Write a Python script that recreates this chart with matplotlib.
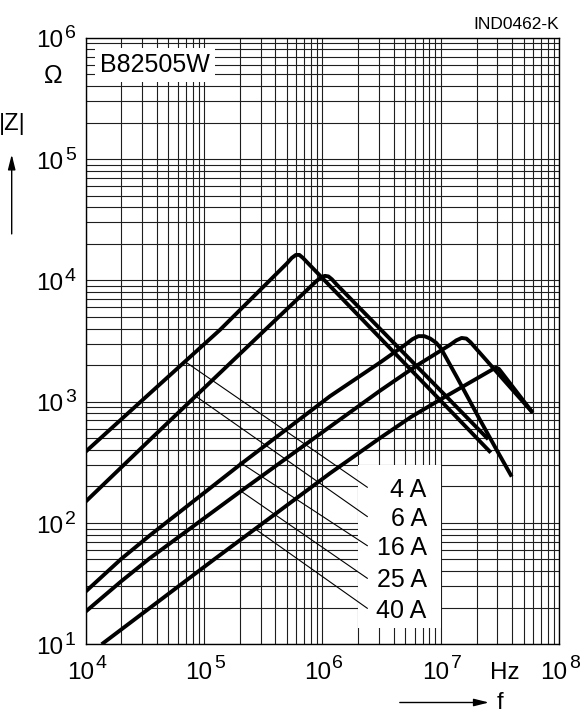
import numpy as np
import matplotlib
matplotlib.use('Agg')
import matplotlib.pyplot as plt
from matplotlib.ticker import LogLocator, NullFormatter
from matplotlib.patches import Rectangle, FancyArrowPatch

plt.rcParams['font.family'] = ['Liberation Sans', 'DejaVu Sans']

f_4A = [1.0e4, 3.49e4, 1.36e5, 5.01e5, 5.50e5, 5.96e5, 6.38e5, 6.84e5, 7.41e5, 2.64e7]
z_4A = [387, 1172, 3900, 13800, 15300, 16200, 16200, 15300, 14100, 380]

f_6A = [1.0e4, 3.49e4, 3.27e5, 8.91e5, 9.77e5, 1.047e6, 1.122e6, 1.202e6, 1.318e6, 2.51e7]
z_6A = [150, 485, 3900, 9890, 10590, 10890, 10770, 10190, 9230, 490]

f_16A = [1.0e4, 2.0e4, 3.49e4, 2.01e5, 1.159e6, 3.06e6, 5.01e6, 5.75e6, 6.46e6, 7.24e6,
         8.13e6, 9.12e6, 1.0e7, 1.358e7, 2.138e7, 2.958e7, 3.963e7]
z_16A = [27.2, 50.6, 79.1, 302, 1110, 2100, 2951, 3273, 3467, 3467,
         3311, 3055, 2754, 1607, 708, 400, 241]

f_25A = [1.0e4, 2.0e4, 3.49e4, 2.08e5, 1.159e6, 3.06e6, 6.31e6, 1.202e7, 1.349e7, 1.496e7,
         1.641e7, 1.778e7, 1.95e7, 5.96e7]
z_25A = [18.6, 33.1, 51.3, 185, 622, 1230, 1995, 2951, 3199, 3350,
         3311, 3090, 2786, 811]

f_40A = [1.365e4, 1.197e5, 1.159e6, 3.06e6, 5.62e6, 1.0e7, 2.69e7, 2.917e7, 3.09e7, 5.96e7]
z_40A = [10, 49.5, 257, 501, 750, 1047, 1828, 1905, 1862, 811]

curves = [(f_4A, z_4A), (f_6A, z_6A), (f_16A, z_16A), (f_25A, z_25A), (f_40A, z_40A)]

# Beschriftungen und Hinweislinien
labels = ['4 A', '6 A', '16 A', '25 A', '40 A']
lead_f0 = [6.9e4, 8.61e4, 2.01e5, 2.08e5, 2.78e5]
lead_z0 = [2140, 1099, 316, 181, 87.5]
lead_f1 = [2.39e6, 2.39e6, 2.39e6, 2.39e6, 2.39e6]
lead_z1 = [197, 113, 65, 35, 19.8]
label_f = 7.59e6
label_z = [165, 94.6, 54.6, 29.4, 16.6]

x_decades = [4, 5, 6, 7, 8]
y_decades = [1, 2, 3, 4, 5, 6]

fig = plt.figure(figsize=(5.84, 7.13), dpi=100)
ax = fig.add_axes([0.1467, 0.0964, 0.811, 0.8507])
ax.set_xscale('log')
ax.set_yscale('log')
ax.set_xlim(1e4, 1e8)
ax.set_ylim(10, 1e6)

for axis in (ax.xaxis, ax.yaxis):
    axis.set_major_locator(LogLocator(base=10, numticks=10))
    axis.set_minor_locator(LogLocator(base=10, subs=np.arange(2, 10), numticks=100))
    axis.set_major_formatter(NullFormatter())
    axis.set_minor_formatter(NullFormatter())

ax.set_axisbelow(True)
ax.grid(which='both', color='#1e1e1e', lw=0.8)
ax.tick_params(which='both', length=0)
for s in ax.spines.values():
    s.set_linewidth(1.0)
    s.set_color('black')

# Achsbeschriftungen 10^n mit grossem Exponenten
for e in x_decades:
    ax.annotate('10', xy=(10.0 ** e, 0), xycoords=ax.get_xaxis_transform(),
                xytext=(6.0, -25.0), textcoords='offset points',
                ha='right', va='baseline', fontsize=17.5, annotation_clip=False)
    ax.annotate(str(e), xy=(10.0 ** e, 0), xycoords=ax.get_xaxis_transform(),
                xytext=(7.2, -17.1), textcoords='offset points',
                ha='left', va='baseline', fontsize=14, annotation_clip=False)
for e in y_decades:
    ax.annotate('10', xy=(0, 10.0 ** e), xycoords=ax.get_yaxis_transform(),
                xytext=(-16.3, -7.0), textcoords='offset points',
                ha='right', va='baseline', fontsize=17.5, annotation_clip=False)
    ax.annotate(str(e), xy=(0, 10.0 ** e), xycoords=ax.get_yaxis_transform(),
                xytext=(-14.9, -0.5), textcoords='offset points',
                ha='left', va='baseline', fontsize=14, annotation_clip=False)

# weisses Feld fuer die Beschriftungen
ax.add_patch(Rectangle((2e6, 13.5), 1e7 - 2e6, 300 - 13.5, facecolor='white',
                       edgecolor='none', zorder=1))

for i in range(len(labels)):
    ax.plot([lead_f0[i], lead_f1[i]], [lead_z0[i], lead_z1[i]], color='black', lw=0.8, zorder=2)
    ax.text(label_f, label_z[i], labels[i], ha='right', va='baseline', fontsize=18, zorder=4)

for f, z in curves:
    ax.plot(f, z, color='black', lw=2.8, solid_joinstyle='round', solid_capstyle='butt', zorder=3)

ax.text(1.32e4, 5.97e5, 'B82505W', fontsize=18, ha='left', va='center', zorder=4,
        bbox=dict(boxstyle='square,pad=0.2', facecolor='white', edgecolor='none'))

# Einheiten
ax.text(-0.069, 4.84e5, 'Ω', transform=ax.get_yaxis_transform(), fontsize=18,
        ha='center', va='center')
ax.text(3.47e7, -0.0572, 'Hz', transform=ax.get_xaxis_transform(), fontsize=17.5,
        ha='center', va='baseline')

fig.text(26 / 584, 1 - 124 / 713, '|Z|', fontsize=17, ha='right', va='center')
fig.text(497 / 584, 1 - 709 / 713, 'f', fontsize=17, ha='left', va='baseline')
fig.text(559.3 / 584, 1 - 29.3 / 713, 'IND0462-K', fontsize=12.5, ha='right', va='baseline')

fig.add_artist(FancyArrowPatch(
    (11.7 / 584, 1 - 236.7 / 713), (11.7 / 584, 1 - 151.7 / 713), transform=fig.transFigure,
    arrowstyle='-|>,head_length=0.6,head_width=0.15', mutation_scale=15, lw=1, color='black'))
fig.add_artist(FancyArrowPatch(
    (397 / 584, 1 - 702.5 / 713), (491.7 / 584, 1 - 702.5 / 713), transform=fig.transFigure,
    arrowstyle='-|>,head_length=0.6,head_width=0.15', mutation_scale=15, lw=1, color='black'))

fig.savefig('out.png', dpi=100)
